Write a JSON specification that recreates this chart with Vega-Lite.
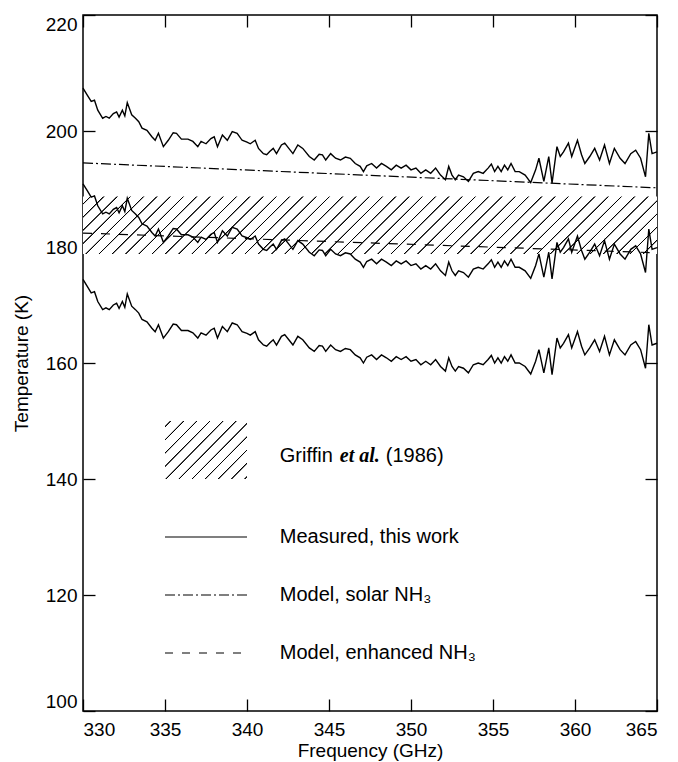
{
  "$schema": "https://vega.github.io/schema/vega-lite/v6.json",
  "width": 574,
  "height": 696,
  "autosize": {"type": "none"},
  "padding": {"left": 83, "top": 15, "right": 21, "bottom": 51},
  "background": "white",
  "config": {
    "font": "Liberation Sans",
    "view": {"stroke": "black", "strokeWidth": 1.5},
    "axis": {"domain": false, "grid": false, "tickColor": "black", "tickWidth": 1.3, "tickSize": -12, "labelColor": "black", "labelFont": "Liberation Sans", "labelFontSize": 19, "titleFont": "Liberation Sans", "titleFontSize": 19, "titleFontWeight": "normal", "titleColor": "black"}
  },
  "datasets": {
    "band": [{"f": 330, "f2": 365, "v": 178.8, "v2": 188.7}],
    "swatch": [{"f": 335, "f2": 340, "v": 140, "v2": 150}],
    "solar": [{"f": 330, "v": 194.5}, {"f": 365, "v": 190.2}],
    "enh": [{"f": 330, "v": 182.4}, {"f": 365, "v": 179.0}],
    "legSolid": [{"f": 335, "f2": 340, "v": 130}],
    "legSolar": [{"f": 335, "f2": 340, "v": 120}],
    "legEnh": [{"f": 335, "f2": 340, "v": 110}],
    "legText": [
      {"f": 342, "v": 130, "label": "Measured, this work"},
      {"f": 342, "v": 120, "label": "Model, solar NH₃"},
      {"f": 342, "v": 110, "label": "Model, enhanced NH₃"}
    ],
    "griffin": [{"f": 342, "v": 144, "a": "Griffin", "b": "et al.", "c": "(1986)"}],
    "curves": [
      {"f": 330.0, "hi": 207.4, "mid": 190.9, "lo": 174.4},
      {"f": 330.26, "hi": 206.2, "mid": 189.7, "lo": 173.2},
      {"f": 330.5, "hi": 205.1, "mid": 188.6, "lo": 172.1},
      {"f": 330.7, "hi": 205.3, "mid": 188.8, "lo": 172.3},
      {"f": 330.9, "hi": 203.6, "mid": 187.1, "lo": 170.6},
      {"f": 331.2, "hi": 202.2, "mid": 185.7, "lo": 169.2},
      {"f": 331.4, "hi": 202.5, "mid": 186.0, "lo": 169.5},
      {"f": 331.6, "hi": 202.2, "mid": 185.7, "lo": 169.2},
      {"f": 331.85, "hi": 203.0, "mid": 186.5, "lo": 170.0},
      {"f": 332.05, "hi": 203.3, "mid": 186.8, "lo": 170.3},
      {"f": 332.2, "hi": 202.4, "mid": 185.9, "lo": 169.4},
      {"f": 332.4, "hi": 203.6, "mid": 187.1, "lo": 170.6},
      {"f": 332.55, "hi": 202.6, "mid": 186.1, "lo": 169.6},
      {"f": 332.7, "hi": 204.9, "mid": 188.4, "lo": 171.9},
      {"f": 332.97, "hi": 202.8, "mid": 186.3, "lo": 169.8},
      {"f": 333.2, "hi": 202.2, "mid": 185.7, "lo": 169.2},
      {"f": 333.4, "hi": 201.6, "mid": 185.1, "lo": 168.6},
      {"f": 333.6, "hi": 200.5, "mid": 184.0, "lo": 167.5},
      {"f": 333.9, "hi": 200.1, "mid": 183.6, "lo": 167.1},
      {"f": 334.2, "hi": 199.0, "mid": 182.5, "lo": 166.0},
      {"f": 334.4, "hi": 198.4, "mid": 181.9, "lo": 165.4},
      {"f": 334.6, "hi": 199.6, "mid": 183.1, "lo": 166.6},
      {"f": 334.9, "hi": 197.3, "mid": 180.8, "lo": 164.3},
      {"f": 335.2, "hi": 198.4, "mid": 181.9, "lo": 165.4},
      {"f": 335.5, "hi": 199.7, "mid": 183.2, "lo": 166.7},
      {"f": 335.7, "hi": 199.6, "mid": 183.1, "lo": 166.6},
      {"f": 336.0, "hi": 198.6, "mid": 182.1, "lo": 165.6},
      {"f": 336.4, "hi": 198.6, "mid": 182.1, "lo": 165.6},
      {"f": 336.7, "hi": 198.2, "mid": 181.7, "lo": 165.2},
      {"f": 337.0, "hi": 197.3, "mid": 180.8, "lo": 164.3},
      {"f": 337.2, "hi": 198.2, "mid": 181.7, "lo": 165.2},
      {"f": 337.5, "hi": 197.8, "mid": 181.3, "lo": 164.8},
      {"f": 337.8, "hi": 198.7, "mid": 182.2, "lo": 165.7},
      {"f": 338.0, "hi": 199.0, "mid": 182.5, "lo": 166.0},
      {"f": 338.2, "hi": 197.3, "mid": 180.8, "lo": 164.3},
      {"f": 338.5, "hi": 199.3, "mid": 182.8, "lo": 166.3},
      {"f": 338.8, "hi": 198.4, "mid": 181.9, "lo": 165.4},
      {"f": 339.1, "hi": 199.9, "mid": 183.4, "lo": 166.9},
      {"f": 339.4, "hi": 199.6, "mid": 183.1, "lo": 166.6},
      {"f": 339.7, "hi": 198.4, "mid": 181.9, "lo": 165.4},
      {"f": 340.0, "hi": 198.1, "mid": 181.6, "lo": 165.1},
      {"f": 340.2, "hi": 197.8, "mid": 181.3, "lo": 164.8},
      {"f": 340.5, "hi": 198.4, "mid": 181.9, "lo": 165.4},
      {"f": 340.7, "hi": 197.0, "mid": 180.5, "lo": 164.0},
      {"f": 341.0, "hi": 196.1, "mid": 179.6, "lo": 163.1},
      {"f": 341.2, "hi": 195.9, "mid": 179.4, "lo": 162.9},
      {"f": 341.4, "hi": 196.5, "mid": 180.0, "lo": 163.5},
      {"f": 341.6, "hi": 197.0, "mid": 180.5, "lo": 164.0},
      {"f": 341.8, "hi": 196.1, "mid": 179.6, "lo": 163.1},
      {"f": 342.1, "hi": 197.6, "mid": 181.1, "lo": 164.6},
      {"f": 342.3, "hi": 197.9, "mid": 181.4, "lo": 164.9},
      {"f": 342.55, "hi": 197.0, "mid": 180.5, "lo": 164.0},
      {"f": 342.8, "hi": 196.1, "mid": 179.6, "lo": 163.1},
      {"f": 343.1, "hi": 197.6, "mid": 181.1, "lo": 164.6},
      {"f": 343.4, "hi": 197.0, "mid": 180.5, "lo": 164.0},
      {"f": 343.8, "hi": 195.6, "mid": 179.1, "lo": 162.6},
      {"f": 344.1, "hi": 195.0, "mid": 178.5, "lo": 162.0},
      {"f": 344.4, "hi": 196.0, "mid": 179.5, "lo": 163.0},
      {"f": 344.6, "hi": 195.9, "mid": 179.4, "lo": 162.9},
      {"f": 344.8, "hi": 195.0, "mid": 178.5, "lo": 162.0},
      {"f": 345.1, "hi": 196.1, "mid": 179.6, "lo": 163.1},
      {"f": 345.4, "hi": 195.3, "mid": 178.8, "lo": 162.3},
      {"f": 345.7, "hi": 195.0, "mid": 178.5, "lo": 162.0},
      {"f": 346.0, "hi": 195.5, "mid": 179.0, "lo": 162.5},
      {"f": 346.3, "hi": 195.3, "mid": 178.8, "lo": 162.3},
      {"f": 346.6, "hi": 194.4, "mid": 177.9, "lo": 161.4},
      {"f": 346.9, "hi": 193.9, "mid": 177.4, "lo": 160.9},
      {"f": 347.1, "hi": 193.0, "mid": 176.5, "lo": 160.0},
      {"f": 347.3, "hi": 194.0, "mid": 177.5, "lo": 161.0},
      {"f": 347.6, "hi": 194.4, "mid": 177.9, "lo": 161.4},
      {"f": 347.9, "hi": 193.6, "mid": 177.1, "lo": 160.6},
      {"f": 348.2, "hi": 194.4, "mid": 177.9, "lo": 161.4},
      {"f": 348.5, "hi": 193.9, "mid": 177.4, "lo": 160.9},
      {"f": 348.8, "hi": 193.3, "mid": 176.8, "lo": 160.3},
      {"f": 349.1, "hi": 194.1, "mid": 177.6, "lo": 161.1},
      {"f": 349.4, "hi": 193.6, "mid": 177.1, "lo": 160.6},
      {"f": 349.7, "hi": 194.1, "mid": 177.6, "lo": 161.1},
      {"f": 350.0, "hi": 193.3, "mid": 176.8, "lo": 160.3},
      {"f": 350.3, "hi": 193.6, "mid": 177.1, "lo": 160.6},
      {"f": 350.6, "hi": 192.7, "mid": 176.2, "lo": 159.7},
      {"f": 350.9, "hi": 193.3, "mid": 176.8, "lo": 160.3},
      {"f": 351.2, "hi": 192.7, "mid": 176.2, "lo": 159.7},
      {"f": 351.5, "hi": 193.6, "mid": 177.1, "lo": 160.6},
      {"f": 351.8, "hi": 192.4, "mid": 175.9, "lo": 159.4},
      {"f": 352.1, "hi": 191.6, "mid": 175.1, "lo": 158.6},
      {"f": 352.3, "hi": 193.9, "mid": 177.4, "lo": 160.9},
      {"f": 352.5, "hi": 192.4, "mid": 175.9, "lo": 159.4},
      {"f": 352.7, "hi": 191.6, "mid": 175.1, "lo": 158.6},
      {"f": 352.9, "hi": 192.4, "mid": 175.9, "lo": 159.4},
      {"f": 353.2, "hi": 192.1, "mid": 175.6, "lo": 159.1},
      {"f": 353.5, "hi": 191.3, "mid": 174.8, "lo": 158.3},
      {"f": 353.8, "hi": 192.7, "mid": 176.2, "lo": 159.7},
      {"f": 354.1, "hi": 193.0, "mid": 176.5, "lo": 160.0},
      {"f": 354.4, "hi": 192.7, "mid": 176.2, "lo": 159.7},
      {"f": 354.7, "hi": 193.6, "mid": 177.1, "lo": 160.6},
      {"f": 354.9, "hi": 194.3, "mid": 177.8, "lo": 161.3},
      {"f": 355.1, "hi": 193.0, "mid": 176.5, "lo": 160.0},
      {"f": 355.3, "hi": 193.9, "mid": 177.4, "lo": 160.9},
      {"f": 355.5, "hi": 193.0, "mid": 176.5, "lo": 160.0},
      {"f": 355.7, "hi": 194.1, "mid": 177.6, "lo": 161.1},
      {"f": 355.9, "hi": 193.3, "mid": 176.8, "lo": 160.3},
      {"f": 356.1, "hi": 194.4, "mid": 177.9, "lo": 161.4},
      {"f": 356.35, "hi": 193.0, "mid": 176.5, "lo": 160.0},
      {"f": 356.6, "hi": 193.0, "mid": 176.5, "lo": 160.0},
      {"f": 356.96, "hi": 192.4, "mid": 175.9, "lo": 159.4},
      {"f": 357.3, "hi": 191.1, "mid": 174.6, "lo": 158.1},
      {"f": 357.6, "hi": 193.3, "mid": 176.8, "lo": 160.3},
      {"f": 357.8, "hi": 195.3, "mid": 178.8, "lo": 162.3},
      {"f": 358.1, "hi": 191.3, "mid": 174.8, "lo": 158.3},
      {"f": 358.4, "hi": 195.6, "mid": 179.1, "lo": 162.6},
      {"f": 358.6, "hi": 191.0, "mid": 174.5, "lo": 158.0},
      {"f": 358.9, "hi": 197.3, "mid": 180.8, "lo": 164.3},
      {"f": 359.1, "hi": 195.6, "mid": 179.1, "lo": 162.6},
      {"f": 359.3, "hi": 196.4, "mid": 179.9, "lo": 163.4},
      {"f": 359.6, "hi": 197.9, "mid": 181.4, "lo": 164.9},
      {"f": 359.8, "hi": 195.6, "mid": 179.1, "lo": 162.6},
      {"f": 360.15, "hi": 198.4, "mid": 181.9, "lo": 165.4},
      {"f": 360.4, "hi": 195.9, "mid": 179.4, "lo": 162.9},
      {"f": 360.6, "hi": 194.4, "mid": 177.9, "lo": 161.4},
      {"f": 360.9, "hi": 195.6, "mid": 179.1, "lo": 162.6},
      {"f": 361.2, "hi": 197.0, "mid": 180.5, "lo": 164.0},
      {"f": 361.5, "hi": 195.0, "mid": 178.5, "lo": 162.0},
      {"f": 361.8, "hi": 197.6, "mid": 181.1, "lo": 164.6},
      {"f": 362.1, "hi": 194.4, "mid": 177.9, "lo": 161.4},
      {"f": 362.4, "hi": 197.0, "mid": 180.5, "lo": 164.0},
      {"f": 362.75, "hi": 195.3, "mid": 178.8, "lo": 162.3},
      {"f": 363.05, "hi": 194.4, "mid": 177.9, "lo": 161.4},
      {"f": 363.4, "hi": 196.1, "mid": 179.6, "lo": 163.1},
      {"f": 363.7, "hi": 196.7, "mid": 180.2, "lo": 163.7},
      {"f": 364.0, "hi": 195.3, "mid": 178.8, "lo": 162.3},
      {"f": 364.3, "hi": 192.1, "mid": 175.6, "lo": 159.1},
      {"f": 364.5, "hi": 199.6, "mid": 183.1, "lo": 166.6},
      {"f": 364.7, "hi": 196.1, "mid": 179.6, "lo": 163.1},
      {"f": 365.0, "hi": 196.4, "mid": 179.9, "lo": 163.4}
    ]
  },
  "encoding": {
    "x": {"field": "f", "type": "quantitative", "scale": {"domain": [330, 365], "nice": false, "zero": false}, "axis": null},
    "y": {"field": "v", "type": "quantitative", "scale": {"domain": [100, 220], "nice": false, "zero": false}, "axis": null}
  },
  "resolve": {"axis": {"x": "independent", "y": "independent"}},
  "layer": [
    {
      "data": {"name": "band"},
      "mark": {"type": "rect", "fill": {"gradient": "linear", "x1": 0, "y1": 0, "x2": 1.09, "y2": 0.11, "stops": [
        {"offset": 0.0104, "color": "white"}, {"offset": 0.0114, "color": "black"}, {"offset": 0.0126, "color": "black"}, {"offset": 0.0136, "color": "white"},
        {"offset": 0.0314, "color": "white"}, {"offset": 0.0324, "color": "black"}, {"offset": 0.0336, "color": "black"}, {"offset": 0.0346, "color": "white"},
        {"offset": 0.0524, "color": "white"}, {"offset": 0.0534, "color": "black"}, {"offset": 0.0546, "color": "black"}, {"offset": 0.0556, "color": "white"},
        {"offset": 0.0734, "color": "white"}, {"offset": 0.0744, "color": "black"}, {"offset": 0.0756, "color": "black"}, {"offset": 0.0766, "color": "white"},
        {"offset": 0.0944, "color": "white"}, {"offset": 0.0954, "color": "black"}, {"offset": 0.0966, "color": "black"}, {"offset": 0.0976, "color": "white"},
        {"offset": 0.1154, "color": "white"}, {"offset": 0.1164, "color": "black"}, {"offset": 0.1176, "color": "black"}, {"offset": 0.1186, "color": "white"},
        {"offset": 0.1364, "color": "white"}, {"offset": 0.1374, "color": "black"}, {"offset": 0.1386, "color": "black"}, {"offset": 0.1396, "color": "white"},
        {"offset": 0.1574, "color": "white"}, {"offset": 0.1584, "color": "black"}, {"offset": 0.1596, "color": "black"}, {"offset": 0.1606, "color": "white"},
        {"offset": 0.1784, "color": "white"}, {"offset": 0.1794, "color": "black"}, {"offset": 0.1806, "color": "black"}, {"offset": 0.1816, "color": "white"},
        {"offset": 0.1994, "color": "white"}, {"offset": 0.2004, "color": "black"}, {"offset": 0.2016, "color": "black"}, {"offset": 0.2026, "color": "white"},
        {"offset": 0.2204, "color": "white"}, {"offset": 0.2214, "color": "black"}, {"offset": 0.2226, "color": "black"}, {"offset": 0.2236, "color": "white"},
        {"offset": 0.2414, "color": "white"}, {"offset": 0.2424, "color": "black"}, {"offset": 0.2436, "color": "black"}, {"offset": 0.2446, "color": "white"},
        {"offset": 0.2624, "color": "white"}, {"offset": 0.2634, "color": "black"}, {"offset": 0.2646, "color": "black"}, {"offset": 0.2656, "color": "white"},
        {"offset": 0.2834, "color": "white"}, {"offset": 0.2844, "color": "black"}, {"offset": 0.2856, "color": "black"}, {"offset": 0.2866, "color": "white"},
        {"offset": 0.3044, "color": "white"}, {"offset": 0.3054, "color": "black"}, {"offset": 0.3066, "color": "black"}, {"offset": 0.3076, "color": "white"},
        {"offset": 0.3254, "color": "white"}, {"offset": 0.3264, "color": "black"}, {"offset": 0.3276, "color": "black"}, {"offset": 0.3286, "color": "white"},
        {"offset": 0.3464, "color": "white"}, {"offset": 0.3474, "color": "black"}, {"offset": 0.3486, "color": "black"}, {"offset": 0.3496, "color": "white"},
        {"offset": 0.3674, "color": "white"}, {"offset": 0.3684, "color": "black"}, {"offset": 0.3696, "color": "black"}, {"offset": 0.3706, "color": "white"},
        {"offset": 0.3884, "color": "white"}, {"offset": 0.3894, "color": "black"}, {"offset": 0.3906, "color": "black"}, {"offset": 0.3916, "color": "white"},
        {"offset": 0.4094, "color": "white"}, {"offset": 0.4104, "color": "black"}, {"offset": 0.4116, "color": "black"}, {"offset": 0.4126, "color": "white"},
        {"offset": 0.4304, "color": "white"}, {"offset": 0.4314, "color": "black"}, {"offset": 0.4326, "color": "black"}, {"offset": 0.4336, "color": "white"},
        {"offset": 0.4514, "color": "white"}, {"offset": 0.4524, "color": "black"}, {"offset": 0.4536, "color": "black"}, {"offset": 0.4546, "color": "white"},
        {"offset": 0.4724, "color": "white"}, {"offset": 0.4734, "color": "black"}, {"offset": 0.4746, "color": "black"}, {"offset": 0.4756, "color": "white"},
        {"offset": 0.4934, "color": "white"}, {"offset": 0.4944, "color": "black"}, {"offset": 0.4956, "color": "black"}, {"offset": 0.4966, "color": "white"},
        {"offset": 0.5144, "color": "white"}, {"offset": 0.5154, "color": "black"}, {"offset": 0.5166, "color": "black"}, {"offset": 0.5176, "color": "white"},
        {"offset": 0.5354, "color": "white"}, {"offset": 0.5364, "color": "black"}, {"offset": 0.5376, "color": "black"}, {"offset": 0.5386, "color": "white"},
        {"offset": 0.5564, "color": "white"}, {"offset": 0.5574, "color": "black"}, {"offset": 0.5586, "color": "black"}, {"offset": 0.5596, "color": "white"},
        {"offset": 0.5774, "color": "white"}, {"offset": 0.5784, "color": "black"}, {"offset": 0.5796, "color": "black"}, {"offset": 0.5806, "color": "white"},
        {"offset": 0.5984, "color": "white"}, {"offset": 0.5994, "color": "black"}, {"offset": 0.6006, "color": "black"}, {"offset": 0.6016, "color": "white"},
        {"offset": 0.6194, "color": "white"}, {"offset": 0.6204, "color": "black"}, {"offset": 0.6216, "color": "black"}, {"offset": 0.6226, "color": "white"},
        {"offset": 0.6404, "color": "white"}, {"offset": 0.6414, "color": "black"}, {"offset": 0.6426, "color": "black"}, {"offset": 0.6436, "color": "white"},
        {"offset": 0.6614, "color": "white"}, {"offset": 0.6624, "color": "black"}, {"offset": 0.6636, "color": "black"}, {"offset": 0.6646, "color": "white"},
        {"offset": 0.6824, "color": "white"}, {"offset": 0.6834, "color": "black"}, {"offset": 0.6846, "color": "black"}, {"offset": 0.6856, "color": "white"},
        {"offset": 0.7034, "color": "white"}, {"offset": 0.7044, "color": "black"}, {"offset": 0.7056, "color": "black"}, {"offset": 0.7066, "color": "white"},
        {"offset": 0.7244, "color": "white"}, {"offset": 0.7254, "color": "black"}, {"offset": 0.7266, "color": "black"}, {"offset": 0.7276, "color": "white"},
        {"offset": 0.7454, "color": "white"}, {"offset": 0.7464, "color": "black"}, {"offset": 0.7476, "color": "black"}, {"offset": 0.7486, "color": "white"},
        {"offset": 0.7664, "color": "white"}, {"offset": 0.7674, "color": "black"}, {"offset": 0.7686, "color": "black"}, {"offset": 0.7696, "color": "white"},
        {"offset": 0.7874, "color": "white"}, {"offset": 0.7884, "color": "black"}, {"offset": 0.7896, "color": "black"}, {"offset": 0.7906, "color": "white"},
        {"offset": 0.8084, "color": "white"}, {"offset": 0.8094, "color": "black"}, {"offset": 0.8106, "color": "black"}, {"offset": 0.8116, "color": "white"},
        {"offset": 0.8294, "color": "white"}, {"offset": 0.8304, "color": "black"}, {"offset": 0.8316, "color": "black"}, {"offset": 0.8326, "color": "white"},
        {"offset": 0.8504, "color": "white"}, {"offset": 0.8514, "color": "black"}, {"offset": 0.8526, "color": "black"}, {"offset": 0.8536, "color": "white"},
        {"offset": 0.8714, "color": "white"}, {"offset": 0.8724, "color": "black"}, {"offset": 0.8736, "color": "black"}, {"offset": 0.8746, "color": "white"},
        {"offset": 0.8924, "color": "white"}, {"offset": 0.8934, "color": "black"}, {"offset": 0.8946, "color": "black"}, {"offset": 0.8956, "color": "white"},
        {"offset": 0.9134, "color": "white"}, {"offset": 0.9144, "color": "black"}, {"offset": 0.9156, "color": "black"}, {"offset": 0.9166, "color": "white"},
        {"offset": 0.9344, "color": "white"}, {"offset": 0.9354, "color": "black"}, {"offset": 0.9366, "color": "black"}, {"offset": 0.9376, "color": "white"},
        {"offset": 0.9554, "color": "white"}, {"offset": 0.9564, "color": "black"}, {"offset": 0.9576, "color": "black"}, {"offset": 0.9586, "color": "white"},
        {"offset": 0.9764, "color": "white"}, {"offset": 0.9774, "color": "black"}, {"offset": 0.9786, "color": "black"}, {"offset": 0.9796, "color": "white"}
      ]}},
      "encoding": {
        "x": {"field": "f", "type": "quantitative", "scale": {"domain": [330, 365], "nice": false, "zero": false},
              "axis": {"orient": "bottom", "values": [330, 335, 340, 345, 350, 355, 360, 365], "title": "Frequency (GHz)", "labelPadding": 21, "titlePadding": 2}},
        "x2": {"field": "f2"},
        "y": {"field": "v", "type": "quantitative", "scale": {"domain": [100, 220], "nice": false, "zero": false},
              "axis": {"orient": "left", "values": [100, 120, 140, 160, 180, 200, 220], "title": "Temperature (K)", "labelFlush": true, "labelPadding": 18, "titlePadding": 14}},
        "y2": {"field": "v2"}
      }
    },
    {
      "data": {"name": "swatch"},
      "mark": {"type": "rect", "fill": {"gradient": "linear", "x1": 0, "y1": 0, "x2": 1.141, "y2": 0.798, "stops": [
        {"offset": 0.0329, "color": "white"}, {"offset": 0.0373, "color": "black"}, {"offset": 0.0427, "color": "black"}, {"offset": 0.0471, "color": "white"},
        {"offset": 0.1272, "color": "white"}, {"offset": 0.1316, "color": "black"}, {"offset": 0.137, "color": "black"}, {"offset": 0.1414, "color": "white"},
        {"offset": 0.2215, "color": "white"}, {"offset": 0.2259, "color": "black"}, {"offset": 0.2313, "color": "black"}, {"offset": 0.2357, "color": "white"},
        {"offset": 0.3158, "color": "white"}, {"offset": 0.3202, "color": "black"}, {"offset": 0.3256, "color": "black"}, {"offset": 0.33, "color": "white"},
        {"offset": 0.4101, "color": "white"}, {"offset": 0.4145, "color": "black"}, {"offset": 0.4199, "color": "black"}, {"offset": 0.4243, "color": "white"},
        {"offset": 0.5044, "color": "white"}, {"offset": 0.5088, "color": "black"}, {"offset": 0.5142, "color": "black"}, {"offset": 0.5186, "color": "white"},
        {"offset": 0.5987, "color": "white"}, {"offset": 0.6031, "color": "black"}, {"offset": 0.6085, "color": "black"}, {"offset": 0.6129, "color": "white"},
        {"offset": 0.693, "color": "white"}, {"offset": 0.6974, "color": "black"}, {"offset": 0.7028, "color": "black"}, {"offset": 0.7072, "color": "white"},
        {"offset": 0.7873, "color": "white"}, {"offset": 0.7917, "color": "black"}, {"offset": 0.7971, "color": "black"}, {"offset": 0.8015, "color": "white"},
        {"offset": 0.8816, "color": "white"}, {"offset": 0.886, "color": "black"}, {"offset": 0.8914, "color": "black"}, {"offset": 0.8958, "color": "white"},
        {"offset": 0.9759, "color": "white"}, {"offset": 0.9803, "color": "black"}, {"offset": 0.9857, "color": "black"}, {"offset": 0.9901, "color": "white"}
      ]}},
      "encoding": {"x2": {"field": "f2"}, "y2": {"field": "v2"}}
    },
    {
      "data": {"name": "solar"},
      "mark": {"type": "line", "color": "black", "strokeWidth": 1.2, "strokeDash": [10, 3, 2, 3]},
      "encoding": {
        "x": {"field": "f", "type": "quantitative", "scale": {"domain": [330, 365], "nice": false, "zero": false},
              "axis": {"orient": "top", "values": [330, 335, 340, 345, 350, 355, 360, 365], "labels": false, "title": null}},
        "y": {"field": "v", "type": "quantitative", "scale": {"domain": [100, 220], "nice": false, "zero": false},
              "axis": {"orient": "right", "values": [100, 120, 140, 160, 180, 200, 220], "labels": false, "title": null}}
      }
    },
    {
      "data": {"name": "enh"},
      "mark": {"type": "line", "color": "black", "strokeWidth": 1.2, "strokeDash": [9, 9]},
      "encoding": {}
    },
    {
      "data": {"name": "curves"},
      "transform": [{"fold": ["hi", "mid", "lo"], "as": ["s", "v"]}],
      "mark": {"type": "line", "color": "black", "strokeWidth": 1.4},
      "encoding": {"detail": {"field": "s", "type": "nominal"}}
    },
    {
      "data": {"name": "legSolid"},
      "mark": {"type": "rule", "color": "black", "strokeWidth": 1.2},
      "encoding": {"x2": {"field": "f2"}}
    },
    {
      "data": {"name": "legSolar"},
      "mark": {"type": "rule", "color": "black", "strokeWidth": 1.2, "strokeDash": [10, 3, 2, 3]},
      "encoding": {"x2": {"field": "f2"}}
    },
    {
      "data": {"name": "legEnh"},
      "mark": {"type": "rule", "color": "black", "strokeWidth": 1.2, "strokeDash": [8, 9]},
      "encoding": {"x2": {"field": "f2"}}
    },
    {
      "data": {"name": "legText"},
      "mark": {"type": "text", "align": "left", "baseline": "middle", "font": "Liberation Sans", "fontSize": 20, "color": "black"},
      "encoding": {"text": {"field": "label"}}
    },
    {
      "data": {"name": "griffin"},
      "mark": {"type": "text", "align": "left", "baseline": "middle", "font": "Liberation Sans", "fontSize": 20, "color": "black"},
      "encoding": {"text": {"field": "a"}}
    },
    {
      "data": {"name": "griffin"},
      "mark": {"type": "text", "align": "left", "baseline": "middle", "font": "Liberation Serif", "fontStyle": "italic", "fontWeight": "bold", "fontSize": 20, "color": "black", "dx": 60},
      "encoding": {"text": {"field": "b"}}
    },
    {
      "data": {"name": "griffin"},
      "mark": {"type": "text", "align": "left", "baseline": "middle", "font": "Liberation Sans", "fontSize": 20, "color": "black", "dx": 106},
      "encoding": {"text": {"field": "c"}}
    }
  ]
}
